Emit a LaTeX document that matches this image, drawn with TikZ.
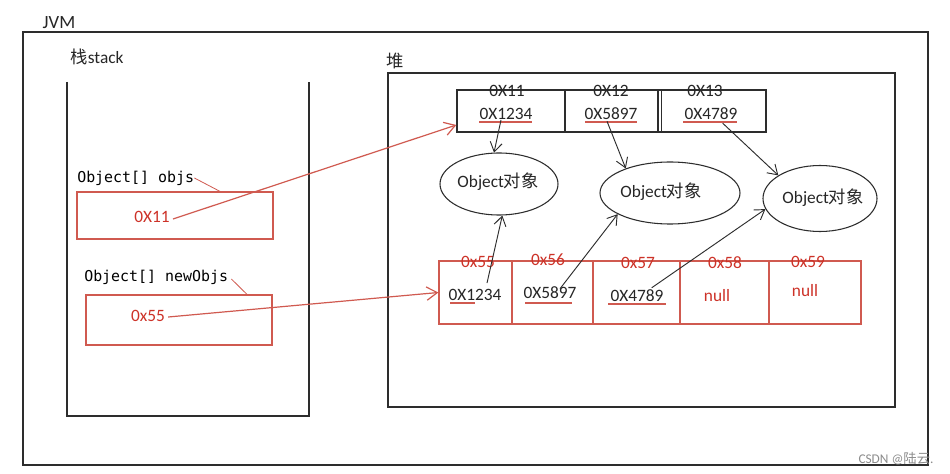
\documentclass[tikz,border=0pt]{standalone}
\usepackage{fontspec}
\setmainfont{Carlito}
\newfontfamily\cjk{Noto Sans CJK SC}
\newfontfamily\monofnt{DejaVu Sans Mono}
\usetikzlibrary{shapes.geometric,arrows.meta,calc}
\definecolor{rline}{RGB}{208,90,80}
\definecolor{rtext}{RGB}{205,50,40}
\definecolor{dline}{RGB}{45,45,45}
\begin{document}
\begin{tikzpicture}[x=0.75pt,y=-0.75pt,
  frame/.style={draw=dline, line width=1pt},
  rbox/.style={draw=rline, line width=0.9pt, rectangle, inner sep=0pt},
  obj/.style={draw=dline, line width=0.8pt, ellipse, inner sep=0pt},
  txt/.style={inner sep=0pt, font=\fontsize{13}{15}\selectfont, text=black!85},
  rtxt/.style={txt, text=rtext},
  mtxt/.style={inner sep=0pt, anchor=west, font=\monofnt\fontsize{11.2}{13}\selectfont},
  bk/.style={draw=dline, line width=0.7pt, -{Straight Barb[length=7pt,width=9pt]}},
  rd/.style={draw=rline, line width=0.9pt, -{Straight Barb[length=8pt,width=10pt]}},
  uline/.style={draw=rline, line width=0.8pt},
]
\useasboundingbox (0,0) rectangle (950,474);
\fill[white] (0,0) rectangle (950,474);

% JVM frame
\draw[frame] (23,32) rectangle (928,465);
\node[txt, font=\fontsize{14}{16}\selectfont] (jvm) at (59,23) {JVM};

% stack
\node[txt] (stk) at (97,57) {{\cjk 栈}stack};
\draw[frame] (67,82) -- (67,416) -- (309,416) -- (309,82);

\node[mtxt] (objs) at (77,178) {Object[] objs};
\node[rbox, minimum width=147pt, minimum height=35.25pt] (objbox) at (175,215.5) {};
\node[rtxt] (o11) at (152,217) {0X11};
\draw[uline, line width=0.6pt] (objs.east) -- ($(objbox.north)+(45,0)$);

\node[mtxt] (nobjs) at (84,277) {Object[] newObjs};
\node[rbox, minimum width=139.5pt, minimum height=37.5pt] (newbox) at (179,320) {};
\node[rtxt] (n55) at (148,316) {0x55};
\draw[uline, line width=0.6pt] ($(nobjs.east)+(3,2)$) -- ($(newbox.north)+(68,0)$);

% heap
\node[txt] (heap) at (395,61) {\cjk 堆};
\draw[frame] (388,73) rectangle (895,407);

% top array
\node[draw=dline, line width=1pt, rectangle, inner sep=0pt, minimum width=231.75pt, minimum height=31.5pt] (harr) at (611.5,111) {};
\draw[dline, line width=1.8pt] (565,90) -- (565,132);
\draw[dline, line width=0.8pt] (658,90) -- (658,132) (661.5,90) -- (661.5,132);
\node[txt] (a11) at (507,91) {0X11};
\node[txt] (a12) at (611,91) {0X12};
\node[txt] (a13) at (705,91) {0X13};
\node[txt] (hv1) at (506,114) {0X1234};
\node[txt] (hv2) at (611,114) {0X5897};
\node[txt] (hv3) at (711,114) {0X4789};
\draw[uline] (479,122) -- (532,122);
\draw[uline] (585,122) -- (637,122);
\draw[uline] (683,122) -- (737,122);

% objects
\node[obj, minimum width=88.5pt, minimum height=46.5pt] (e1) at (499,184) {};
\node[obj, minimum width=105pt, minimum height=46.5pt] (e2) at (670,193) {};
\node[obj, minimum width=85.5pt, minimum height=49.5pt] (e3) at (820,198.5) {};
\node[txt] (e1t) at (498,182) {Object{\cjk 对象}};
\node[txt] (e2t) at (661,192) {Object{\cjk 对象}};
\node[txt] (e3t) at (823,198) {Object{\cjk 对象}};

% bottom array
\node[rbox, minimum width=316.5pt, minimum height=47.25pt] (barr) at (650,292.5) {};
\draw[draw=rline, line width=0.8pt] (512,261) -- (512,324) (593,261) -- (593,324)
  (680,261) -- (680,324) (769,261) -- (769,324);
\node[rtxt] (b55) at (478,262) {0x55};
\node[rtxt] (b56) at (548,260) {0x56};
\node[rtxt] (b57) at (638,263) {0x57};
\node[rtxt] (b58) at (725,263) {0x58};
\node[rtxt] (b59) at (808,262) {0x59};
\node[txt] (bv1) at (475,295) {0X1234};
\node[txt] (bv2) at (550,293) {0X5897};
\node[txt] (bv3) at (637,296) {0X4789};
\node[rtxt] (bv4) at (717,296) {null};
\node[rtxt] (bv5) at (805,291) {null};
\draw[uline] (450,303) -- (475,303);
\draw[uline] (525,303) -- (572,303);
\draw[uline] (608,304) -- (666,304);

% connectors
\draw[rd] ($(o11.east)+(3,2)$) -- ($(harr.west)+(0,14)$);
\draw[rd] ($(n55.east)+(3,1)$) -- (barr.west);

\draw[bk] ($(hv1.south)+(-5,0)$) -- (e1.99);
\draw[bk] ($(hv2.south)+(-4,1)$) -- (e2.151);
\draw[bk] ($(hv3.south east)+(-15,3)$) -- (e3.151);
\draw[bk] ($(bv1.north)+(12,-6)$) -- (e1.-84);
\draw[bk] ($(bv2.north)+(10,2)$) -- (e2.202);
\draw[bk] ($(bv3.north east)+(-12,-2)$) -- (e3.191);

% watermark
\node[inner sep=0pt, text=black!45, font=\fontsize{10}{12}\selectfont] (wm) at (896,459) {CSDN @{\cjk 陆云}.};
\end{tikzpicture}
\end{document}
